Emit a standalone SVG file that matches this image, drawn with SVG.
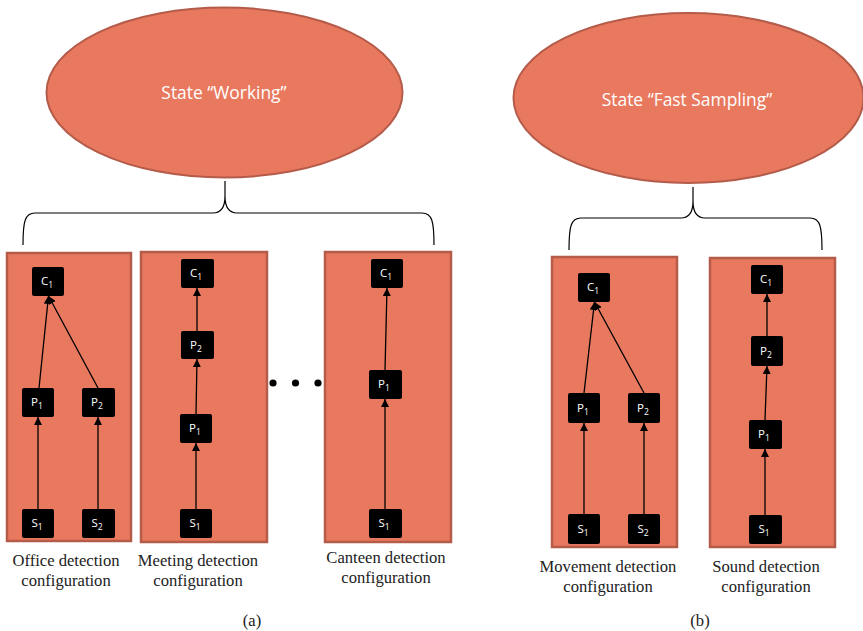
<svg xmlns="http://www.w3.org/2000/svg" width="863" height="631" viewBox="0 0 863 631">
<defs>
<style>
.state{fill:#E9795E;stroke:#B45B4A;stroke-width:2}
.stext{font-family:"Open Sans","Noto Sans",sans-serif;font-size:17.4px;fill:#ffffff;text-anchor:middle}
.cfg{fill:#E9795E;stroke:#B45B4A;stroke-width:2.5}
.nd{fill:#000000;stroke:none}
.nt{font-family:"Open Sans","Noto Sans",sans-serif;font-size:11.5px;fill:#ffffff;text-anchor:middle}
.lbl{font-family:"Liberation Serif","Times New Roman",serif;font-size:16.6px;fill:#222222;text-anchor:middle}
.brace{fill:none;stroke:#000000;stroke-width:1.2}
.edge{fill:none;stroke:#000000;stroke-width:1.3;marker-end:url(#arr)}
</style>
<marker id="arr" viewBox="0 0 10 10" refX="10" refY="5" markerUnits="userSpaceOnUse" markerWidth="8" markerHeight="8" orient="auto">
<path d="M0,0 L10,5 L0,10 z" fill="#000000"/>
</marker>
</defs>
<rect width="863" height="631" fill="#ffffff"/>

<g id="state-working">
<ellipse class="state" cx="224.5" cy="92.5" rx="178" ry="85"/>
<text class="stext" x="224" y="99">State “Working”</text>
</g>
<g id="state-fast-sampling">
<ellipse class="state" cx="688.5" cy="98" rx="175" ry="85"/>
<text class="stext" x="687" y="106">State “Fast Sampling”</text>
</g>

<g id="braces">
<path class="brace" d="M23,245 C23,221 25,213 35,213 L213,213 C221,213 225,208 225,196 L225,181 M434,245 C434,221 432,213 422,213 L237,213 C229,213 225,208 225,196"/>
<path class="brace" d="M569,250 C569,226 571,218 581,218 L681,218 C689,218 693,213 693,201 L693,187 M822,250 C822,226 820,218 810,218 L705,218 C697,218 693,213 693,201"/>
</g>

<g id="config-office">
<rect class="cfg" x="7" y="253" width="124" height="288"/>
<text class="lbl" x="66" y="566">Office detection</text>
<text class="lbl" x="66" y="586">configuration</text>
</g>
<g id="config-meeting">
<rect class="cfg" x="141" y="252" width="126" height="290"/>
<text class="lbl" x="198" y="566">Meeting detection</text>
<text class="lbl" x="198" y="586">configuration</text>
</g>
<g id="ellipsis-dots">
<circle cx="273" cy="383" r="3.6" fill="#000"/>
<circle cx="295.5" cy="383" r="3.6" fill="#000"/>
<circle cx="318" cy="383" r="3.6" fill="#000"/>
</g>
<g id="config-canteen">
<rect class="cfg" x="325" y="252" width="126" height="290"/>
<text class="lbl" x="386" y="563">Canteen detection</text>
<text class="lbl" x="386" y="583">configuration</text>
</g>
<g id="config-movement">
<rect class="cfg" x="552" y="257" width="125" height="290"/>
<text class="lbl" x="608" y="572">Movement detection</text>
<text class="lbl" x="608" y="592">configuration</text>
</g>
<g id="config-sound">
<rect class="cfg" x="710" y="258" width="125" height="289"/>
<text class="lbl" x="766" y="572">Sound detection</text>
<text class="lbl" x="766" y="592">configuration</text>
</g>

<g id="connectors">
<path class="edge" d="M38,509 L38,417"/>
<path class="edge" d="M98,509 L98,417"/>
<path class="edge" d="M39,388 L48.5,296"/>
<path class="edge" d="M98,388 L48.5,296"/>

<path class="edge" d="M196,509 L196,443"/>
<path class="edge" d="M196,414 L197,359"/>
<path class="edge" d="M197,331 L197,288"/>

<path class="edge" d="M385,509 L385,399"/>
<path class="edge" d="M385,370 L387,288"/>

<path class="edge" d="M584,514 L584,423"/>
<path class="edge" d="M644,514 L644,423"/>
<path class="edge" d="M584,393 L594.5,302"/>
<path class="edge" d="M644,393 L594.5,302"/>

<path class="edge" d="M765,515 L765,449"/>
<path class="edge" d="M765,420 L767,366"/>
<path class="edge" d="M767,336 L767,294"/>
</g>

<g id="office-C1"><rect class="nd" x="32" y="267" width="32" height="29" rx="2"/><text class="nt" x="47" y="285">C<tspan font-size="8.5" dy="3">1</tspan></text></g>
<g id="office-P1"><rect class="nd" x="22" y="388" width="32" height="29" rx="2"/><text class="nt" x="37" y="406">P<tspan font-size="8.5" dy="3">1</tspan></text></g>
<g id="office-P2"><rect class="nd" x="82" y="388" width="33" height="29" rx="2"/><text class="nt" x="97" y="406">P<tspan font-size="8.5" dy="3">2</tspan></text></g>
<g id="office-S1"><rect class="nd" x="22" y="509" width="32" height="29" rx="2"/><text class="nt" x="37" y="527">S<tspan font-size="8.5" dy="3">1</tspan></text></g>
<g id="office-S2"><rect class="nd" x="82" y="509" width="33" height="29" rx="2"/><text class="nt" x="97" y="527">S<tspan font-size="8.5" dy="3">2</tspan></text></g>

<g id="meeting-C1"><rect class="nd" x="181" y="259" width="33" height="29" rx="2"/><text class="nt" x="196" y="277">C<tspan font-size="8.5" dy="3">1</tspan></text></g>
<g id="meeting-P2"><rect class="nd" x="181" y="331" width="33" height="28" rx="2"/><text class="nt" x="196" y="349">P<tspan font-size="8.5" dy="3">2</tspan></text></g>
<g id="meeting-P1"><rect class="nd" x="180" y="414" width="32" height="29" rx="2"/><text class="nt" x="195" y="432">P<tspan font-size="8.5" dy="3">1</tspan></text></g>
<g id="meeting-S1"><rect class="nd" x="180" y="509" width="32" height="29" rx="2"/><text class="nt" x="195" y="527">S<tspan font-size="8.5" dy="3">1</tspan></text></g>

<g id="canteen-C1"><rect class="nd" x="371" y="259" width="32" height="29" rx="2"/><text class="nt" x="386" y="277">C<tspan font-size="8.5" dy="3">1</tspan></text></g>
<g id="canteen-P1"><rect class="nd" x="369" y="370" width="33" height="29" rx="2"/><text class="nt" x="384" y="388">P<tspan font-size="8.5" dy="3">1</tspan></text></g>
<g id="canteen-S1"><rect class="nd" x="369" y="509" width="33" height="29" rx="2"/><text class="nt" x="384" y="527">S<tspan font-size="8.5" dy="3">1</tspan></text></g>

<g id="movement-C1"><rect class="nd" x="578" y="273" width="32" height="29" rx="2"/><text class="nt" x="593" y="291">C<tspan font-size="8.5" dy="3">1</tspan></text></g>
<g id="movement-P1"><rect class="nd" x="568" y="393" width="32" height="30" rx="2"/><text class="nt" x="583" y="412">P<tspan font-size="8.5" dy="3">1</tspan></text></g>
<g id="movement-P2"><rect class="nd" x="628" y="393" width="32" height="30" rx="2"/><text class="nt" x="643" y="412">P<tspan font-size="8.5" dy="3">2</tspan></text></g>
<g id="movement-S1"><rect class="nd" x="568" y="514" width="32" height="30" rx="2"/><text class="nt" x="583" y="533">S<tspan font-size="8.5" dy="3">1</tspan></text></g>
<g id="movement-S2"><rect class="nd" x="628" y="514" width="32" height="30" rx="2"/><text class="nt" x="643" y="533">S<tspan font-size="8.5" dy="3">2</tspan></text></g>

<g id="sound-C1"><rect class="nd" x="751" y="265" width="32" height="29" rx="2"/><text class="nt" x="766" y="283">C<tspan font-size="8.5" dy="3">1</tspan></text></g>
<g id="sound-P2"><rect class="nd" x="751" y="336" width="32" height="30" rx="2"/><text class="nt" x="766" y="355">P<tspan font-size="8.5" dy="3">2</tspan></text></g>
<g id="sound-P1"><rect class="nd" x="749" y="420" width="33" height="29" rx="2"/><text class="nt" x="764" y="438">P<tspan font-size="8.5" dy="3">1</tspan></text></g>
<g id="sound-S1"><rect class="nd" x="749" y="515" width="33" height="29" rx="2"/><text class="nt" x="764" y="533">S<tspan font-size="8.5" dy="3">1</tspan></text></g>

<g id="captions">
<text class="lbl" x="252" y="626">(a)</text>
<text class="lbl" x="700" y="626">(b)</text>
</g>
</svg>
